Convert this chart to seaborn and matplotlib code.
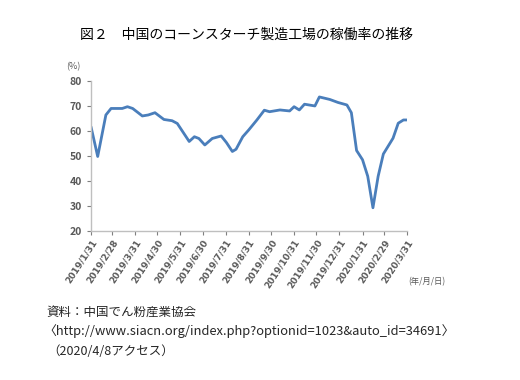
import pandas as pd
import matplotlib
matplotlib.use("Agg")
import matplotlib.pyplot as plt
import seaborn as sns

# 週次データ
dates = [
    "2019-01-31", "2019-02-09", "2019-02-20", "2019-02-27", "2019-03-14", "2019-03-21",
    "2019-03-28", "2019-04-10", "2019-04-18", "2019-04-27", "2019-05-09", "2019-05-20",
    "2019-05-27", "2019-06-12", "2019-06-19", "2019-06-25", "2019-07-03", "2019-07-13",
    "2019-07-25", "2019-08-01", "2019-08-09", "2019-08-14", "2019-08-23", "2019-08-31",
    "2019-09-11", "2019-09-21", "2019-09-28", "2019-10-12", "2019-10-25", "2019-10-31",
    "2019-11-07", "2019-11-14", "2019-11-28", "2019-12-04", "2019-12-18", "2019-12-29",
    "2020-01-10", "2020-01-16", "2020-01-23", "2020-01-31", "2020-02-07", "2020-02-14",
    "2020-02-21", "2020-02-28", "2020-03-12", "2020-03-19", "2020-03-26", "2020-03-31",
]
rate = [
    61.7, 49.8, 66.4, 69.0, 69.0, 69.7,
    69.0, 66.0, 66.4, 67.3, 64.6, 64.1,
    63.0, 55.8, 57.7, 57.0, 54.4, 57.0,
    58.0, 55.4, 51.8, 52.7, 57.7, 60.4,
    64.4, 68.3, 67.7, 68.4, 68.0, 69.7,
    68.4, 70.7, 70.0, 73.6, 72.6, 71.4,
    70.4, 67.3, 52.2, 48.5, 41.9, 29.3,
    41.9, 50.8, 57.1, 63.1, 64.4, 64.4,
]
tick_dates = [
    "2019-01-31", "2019-02-28", "2019-03-31", "2019-04-30", "2019-05-31", "2019-06-30",
    "2019-07-31", "2019-08-31", "2019-09-30", "2019-10-31", "2019-11-30", "2019-12-31",
    "2020-01-31", "2020-02-29", "2020-03-31",
]
tick_labels = [
    "2019/1/31", "2019/2/28", "2019/3/31", "2019/4/30", "2019/5/31", "2019/6/30",
    "2019/7/31", "2019/8/31", "2019/9/30", "2019/10/31", "2019/11/30", "2019/12/31",
    "2020/1/31", "2020/2/29", "2020/3/31",
]
y_ticks = [20, 30, 40, 50, 60, 70, 80]

df = pd.DataFrame({"date": pd.to_datetime(dates), "rate": rate})

sns.set_style("white")
plt.rcParams['font.family'] = ['Noto Sans CJK JP', 'DejaVu Sans']

fig = plt.figure(figsize=(5.2, 3.8), dpi=100)
ax = fig.add_axes([0.175, 0.392, 0.608, 0.395])

sns.lineplot(data=df, x="date", y="rate", ax=ax, color="#4a7ebb", linewidth=2.0)

gray = "#7f7f7f"
ax.set_ylim(20, 80)
ax.set_yticks(y_ticks)
ax.set_xlim(pd.Timestamp(tick_dates[0]), pd.Timestamp(tick_dates[-1]))
ax.set_xticks(pd.to_datetime(tick_dates))
ax.set_xticklabels(tick_labels, rotation=57, ha="right", rotation_mode="anchor",
                   fontsize=6.5, color="#595959", fontweight="bold", family=["DejaVu Sans"])
ax.tick_params(axis="y", labelsize=7.5, colors="#595959", length=3, width=0.8,
               direction="out", left=True)
ax.tick_params(axis="x", length=3, width=0.8, direction="out", bottom=True, color=gray, pad=2)
for lab in ax.get_yticklabels():
    lab.set_fontweight("bold")
ax.tick_params(axis="y", color=gray)
ax.set_xlabel("")
ax.set_ylabel("")
sns.despine(ax=ax)
for s in ("left", "bottom"):
    ax.spines[s].set_color("#bfbfbf")
    ax.spines[s].set_linewidth(1.0)

fig.text(0.128, 0.818, "(%)", fontsize=6.5, color="#595959")
fig.text(0.785, 0.252, "(年/月/日)", fontsize=6, color="#595959")

fig.text(0.474, 0.908, "図２　中国のコーンスターチ製造工場の稼働率の推移", fontsize=10,
         ha="center", va="center", color="black")

fig.text(0.09, 0.178, "資料：中国でん粉産業協会", fontsize=9, va="center")
fig.text(0.083, 0.128, "〈http://www.siacn.org/index.php?optionid=1023&auto_id=34691〉",
         fontsize=9.3, va="center")
fig.text(0.09, 0.074, "（2020/4/8アクセス）", fontsize=9, va="center")

fig.savefig("out.png", dpi=100)
